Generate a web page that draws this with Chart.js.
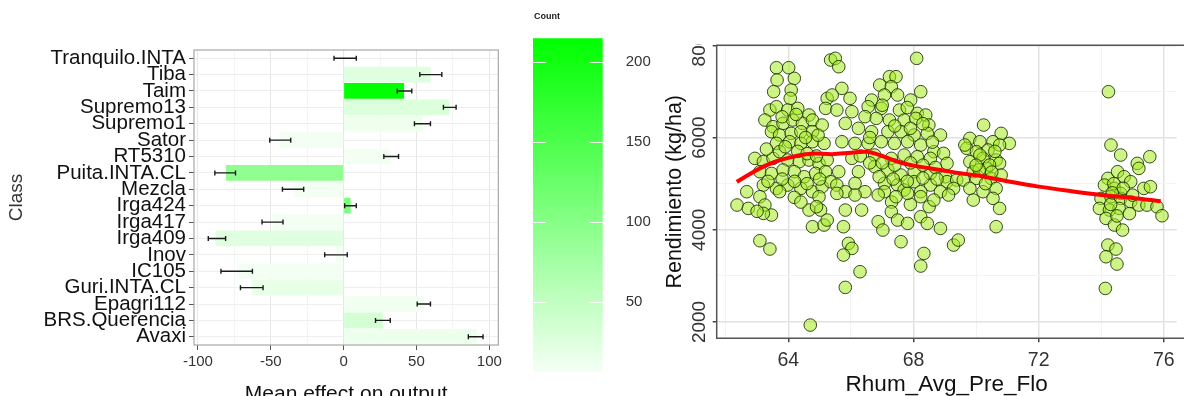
<!DOCTYPE html>
<html>
<head>
<meta charset="utf-8">
<script src="https://cdn.jsdelivr.net/npm/chart.js@4/dist/chart.umd.min.js"></script>
<style>
  html, body { margin: 0; padding: 0; background: #fff; overflow: hidden; }
  #wrap { position: relative; width: 1184px; height: 396px; }
  canvas { position: absolute; top: 0; }
</style>
</head>
<body>
<div id="wrap">
  <canvas id="bars" width="505" height="396" style="left:0"></canvas>
  <canvas id="legend" width="140" height="396" style="left:520px"></canvas>
  <canvas id="scatter" width="544" height="396" style="left:640px"></canvas>
</div>
<script>
// left panel: mean effect per class
const classes = ['Tranquilo.INTA','Tiba','Taim','Supremo13','Supremo1','Sator','RT5310','Puita.INTA.CL','Mezcla',
  'Irga424','Irga417','Irga409','Inov','IC105','Guri.INTA.CL','Epagri112','BRS.Querencia','Avaxi'];
const meanEffect = [1.0, 59.8, 41.5, 72.6, 54.2, -43.5, 32.6, -80.8, -34.7, 4.8, -48.8, -87.9, -5.3, -73.4, -63.0, 55.0, 26.9, 91.4];
const errLow  = [-6.6, 52.3, 36.8, 68.5, 48.6, -50.7, 27.6, -88.4, -42.0, 0.7, -56.0, -92.9, -13.0, -84.2, -70.8, 50.5, 21.9, 85.6];
const errHigh = [8.7, 67.4, 46.8, 77.2, 59.6, -36.3, 37.7, -74.2, -27.4, 8.7, -41.6, -81.0, 2.5, -62.6, -55.3, 59.6, 32.0, 95.7];
const classCount = [6, 24, 215, 27, 12, 8, 7, 92, 8, 110, 8, 24, 7, 8, 17, 9, 34, 13];
const effectMajorTicks = [-100, -50, 0, 50, 100];
const effectMinorTicks = [-75, -25, 25, 75];

// colour bar
const countRange = [6, 215];
const countTicks = [50, 100, 150, 200];

// right panel: yield vs humidity
const rhumMajorTicks = [64, 68, 72, 76];
const rhumMinorTicks = [62, 66, 70, 74];
const yieldMajorTicks = [2000, 4000, 6000, 8000];
const yieldMinorTicks = [3000, 5000, 7000];
const smoothX = [62.35, 62.8, 63.2, 63.6, 64.0, 64.4, 64.8, 65.4, 66.0, 66.5, 67.0, 67.5, 68.0, 68.5, 69.0, 69.5, 70.0, 71.0, 72.0, 73.0, 74.0, 75.0, 75.9];
const smoothY = [5040, 5220, 5370, 5480, 5560, 5620, 5655, 5640, 5670, 5690, 5600, 5475, 5390, 5335, 5280, 5225, 5180, 5050, 4935, 4840, 4755, 4690, 4620];
const yieldPoints = [
  [63.62,7514],[64.01,7514],[63.64,7247],[64.19,7283],[63.53,6994],[64.09,7030],[64.06,6849],[63.41,6596],[63.62,6668],[63.98,6596],
  [64.30,6632],[64.66,6488],[63.25,6379],[63.51,6235],[63.83,6307],[64.14,6379],[64.45,6307],[64.77,6379],[65.08,6271],[63.46,6126],
  [63.72,6054],[64.09,6090],[64.40,6126],[64.77,6126],[63.62,5873],[64.04,5909],[64.40,5873],[64.77,5909],[65.14,5873],[62.93,5548],
  [63.20,5476],[63.51,5548],[63.72,5693],[63.98,5512],[64.35,5476],[64.66,5512],[64.98,5439],[65.24,5512],[63.09,5259],[63.46,5222],
  [63.83,5295],[64.19,5259],[64.51,5150],[64.87,5222],[65.19,5259],[62.67,4825],[63.20,4969],[63.62,4897],[63.98,4969],[64.40,4897],
  [64.77,4825],[65.08,4933],[65.35,5042],[65.35,7681],[65.24,6849],[65.19,6632],
  [62.36,4536],[62.72,4463],[63.09,4716],[63.25,4536],[63.46,4319],[63.20,4355],[63.72,4825],[64.19,4702],[64.66,4427],[64.98,4716],
  [64.77,4066],[65.14,4102],[65.03,4427],[65.24,4210],[63.09,3762],[63.41,3582],[64.70,1933],
  [63.30,5750],[63.90,5800],[64.30,5700],[64.60,5650],[64.90,5600],[63.80,6450],[64.25,6500],[64.55,6000],[64.95,6050],[63.35,5050],
  [63.80,5100],[64.20,5050],[64.60,5000],[65.00,5100],[63.00,4400],[64.40,4600],[64.90,4500],
  [65.50,7717],[65.61,7536],[68.10,7717],[67.23,7319],[67.44,7319],[66.92,7138],[67.29,7102],[65.71,7066],[65.40,6922],[65.97,6849],
  [66.66,6813],[67.07,6922],[67.49,6922],[67.91,6813],[68.23,6994],[66.55,6668],[66.97,6632],[67.55,6596],[68.12,6524],[68.39,6488],
  [65.55,6596],[66.03,6560],[66.45,6452],[66.81,6415],[67.23,6379],[67.70,6379],[68.07,6415],[68.49,6271],[65.82,6307],[66.24,6199],
  [66.66,6126],[67.18,6126],[67.60,6126],[68.02,6054],[68.44,6090],[68.86,6054],[65.71,5909],[66.13,5873],[66.55,5873],[66.97,5909],
  [67.39,5873],[67.81,5909],[68.23,5837],[68.65,5693],[68.96,5656],[66.03,5548],[66.76,5620],[67.29,5548],[67.70,5620],[68.12,5584],
  [68.54,5548],[69.07,5439],[65.61,5259],[66.24,5259],[66.76,5367],[67.18,5295],[67.60,5186],[68.02,5259],[68.54,5222],[69.02,5150],
  [65.55,4969],[66.13,5006],[67.07,5006],[67.49,4969],[68.02,5042],[68.54,4969],[69.07,5042],[69.38,5078],[65.82,4825],[66.45,4825],
  [67.07,4825],[67.70,4861],[68.23,4825],[68.86,4825],[69.28,4897],
  [66.30,5600],[66.60,5450],[67.00,5450],[67.40,5400],[67.90,5450],[68.30,5400],[68.70,5350],[66.90,5150],[67.35,5100],[67.80,5050],
  [68.30,5120],[68.75,5100],[67.30,4600],[67.90,4550],[68.50,4500],[66.60,6000],[67.40,6250],[67.90,6200],[68.30,6300],[67.00,6700],
  [67.80,6650],[68.60,5900],
  [65.55,4789],[66.13,4753],[66.34,4427],[65.82,4427],[65.76,4066],[66.87,4753],[67.44,4716],[67.81,4789],[68.23,4716],[68.65,4644],
  [69.12,4753],[67.29,4391],[66.87,4174],[67.02,3993],[67.49,4210],[67.81,4138],[68.23,4283],[68.44,4138],[68.86,4029],[67.60,3740],
  [65.92,3704],[66.03,3596],[65.76,3451],[66.29,3090],[65.82,2750],[68.33,3487],[68.23,3213],[69.28,3668],[69.43,3776],
  [70.24,6271],[70.80,6090],[71.06,5873],[69.80,5982],[70.12,5909],[70.54,5909],[69.70,5765],[70.01,5693],[70.38,5729],[70.75,5837],
  [69.80,5476],[70.22,5548],[70.64,5512],[69.91,5259],[70.33,5331],[70.75,5439],[69.59,5078],[70.01,5114],[70.48,5114],[70.80,5186],
  [69.80,4897],[70.22,4825],[70.64,4897],[69.91,4644],[70.54,4680],[70.75,4463],[70.64,4066],[69.64,5837],[70.12,5620],[70.43,5403],
  [70.10,5300],[70.50,5250],[70.30,5000],[70.00,5400],[70.60,5700],
  [74.23,6994],[74.31,5837],[74.62,5620],[75.15,5439],[75.55,5584],[75.20,5331],[74.21,5114],[74.52,5259],[74.73,5150],[74.94,5042],
  [74.10,4969],[74.42,4897],[74.62,4789],[75.36,4897],[75.57,4933],[73.99,4680],[74.31,4716],[74.62,4680],[74.94,4608],[75.20,4535],
  [75.46,4535],[75.78,4499],[73.94,4463],[74.26,4427],[74.57,4463],[75.94,4304],[74.15,4246],[74.42,4102],[74.68,3993],[74.21,3668],
  [74.47,3581],[74.15,3415],[74.50,3256],[74.13,2728],
  [74.40,5000],[74.70,4900],[74.30,4550],[74.90,4350],[74.50,4300],[74.35,4800],[75.00,4750]
];

Chart.defaults.font.family = '"Liberation Sans", Arial, sans-serif';
Chart.defaults.animation = false;

function countColor(c) {
  const t = (c - countRange[0]) / (countRange[1] - countRange[0]);
  const v = Math.round(245 * (1 - t));
  return `rgb(${v},255,${v})`;
}
function withMinor(major, minor) {
  return major.concat(minor).sort((a, b) => a - b).map(v => ({value: v}));
}

// --- bar chart -------------------------------------------------------------
const errorBars = {
  id: 'errorBars',
  afterDatasetsDraw(chart) {
    const {ctx, scales: {x, y}} = chart;
    ctx.save();
    ctx.strokeStyle = '#1a1a1a';
    ctx.lineWidth = 1.4;
    classes.forEach((c, i) => {
      const py = y.getPixelForValue(i);
      const x1 = x.getPixelForValue(errLow[i]);
      const x2 = x.getPixelForValue(errHigh[i]);
      ctx.beginPath();
      ctx.moveTo(x1, py); ctx.lineTo(x2, py);
      ctx.moveTo(x1, py - 2.5); ctx.lineTo(x1, py + 2.5);
      ctx.moveTo(x2, py - 2.5); ctx.lineTo(x2, py + 2.5);
      ctx.stroke();
    });
    const a = chart.chartArea;
    ctx.strokeStyle = '#a8a8a8';
    ctx.lineWidth = 1.2;
    ctx.strokeRect(a.left, a.top, a.right - a.left, a.bottom - a.top);
    ctx.restore();
  }
};

new Chart(document.getElementById('bars'), {
  type: 'bar',
  data: {
    labels: classes,
    datasets: [{
      data: meanEffect,
      backgroundColor: classCount.map(countColor),
      borderWidth: 0,
      barPercentage: 1,
      categoryPercentage: 0.96
    }]
  },
  options: {
    indexAxis: 'y',
    responsive: false,
    layout: { padding: { top: 50, right: 6, bottom: 0, left: 0 } },
    plugins: { legend: { display: false }, tooltip: { enabled: false } },
    scales: {
      x: {
        min: -102.7, max: 106.2,
        afterBuildTicks: s => { s.ticks = withMinor(effectMajorTicks, effectMinorTicks); },
        afterFit: s => { s.height = 51; },
        ticks: {
          autoSkip: false, maxRotation: 0, padding: 3, color: '#333', font: { size: 15 },
          callback: v => effectMajorTicks.includes(v) ? v : ''
        },
        grid: {
          color: c => effectMajorTicks.includes(c.tick && c.tick.value) ? '#e6e6e6' : '#f4f4f4',
          tickColor: c => effectMajorTicks.includes(c.tick && c.tick.value) ? '#555' : 'rgba(0,0,0,0)',
          tickLength: 5
        },
        border: { display: false },
        title: { display: true, text: 'Mean effect on output', color: '#111', font: { size: 21, lineHeight: 1 }, padding: { top: 0, bottom: -9 } }
      },
      y: {
        afterFit: s => { s.width = 194; },
        ticks: { autoSkip: false, padding: 3, color: '#111', font: { size: 20.5 } },
        grid: { offset: false, color: '#eeeeee', tickColor: '#555', tickLength: 5 },
        border: { display: false },
        title: { display: true, text: 'Class', color: '#333', font: { size: 19, lineHeight: 1 }, padding: { top: 7 } }
      }
    }
  },
  plugins: [errorBars]
});

// --- colour bar ------------------------------------------------------------
const legendDecor = {
  id: 'legendDecor',
  afterDraw(chart) {
    const {ctx, chartArea: a, scales: {y}} = chart;
    ctx.save();
    ctx.strokeStyle = 'rgba(255,255,255,0.9)';
    ctx.lineWidth = 1;
    countTicks.forEach(v => {
      const py = Math.round(y.getPixelForValue(v)) + 0.5;
      ctx.beginPath();
      ctx.moveTo(a.left, py); ctx.lineTo(a.left + 13, py);
      ctx.moveTo(a.right - 13, py); ctx.lineTo(a.right, py);
      ctx.stroke();
    });
    ctx.fillStyle = '#222';
    ctx.font = 'bold 9px "Liberation Sans", Arial, sans-serif';
    ctx.textBaseline = 'middle';
    ctx.fillText('Count', a.left + 1, 17);
    ctx.restore();
  }
};

new Chart(document.getElementById('legend'), {
  type: 'bar',
  data: {
    labels: ['Count'],
    datasets: [{
      data: [countRange],
      borderWidth: 0,
      barPercentage: 1,
      categoryPercentage: 1,
      backgroundColor: c => {
        const a = c.chart.chartArea;
        if (!a) return countColor(countRange[1]);
        const g = c.chart.ctx.createLinearGradient(0, a.bottom, 0, a.top);
        g.addColorStop(0, countColor(countRange[0]));
        g.addColorStop(1, countColor(countRange[1]));
        return g;
      }
    }]
  },
  options: {
    responsive: false,
    layout: { padding: { top: 38.3, right: 0, bottom: 14.3, left: 13 } },
    plugins: { legend: { display: false }, tooltip: { enabled: false } },
    scales: {
      x: { display: false, offset: true },
      y: {
        position: 'right',
        min: countRange[0], max: countRange[1],
        afterBuildTicks: s => { s.ticks = countTicks.map(v => ({value: v})); },
        afterFit: s => { s.width = 57.3; },
        ticks: { padding: 15, color: '#333', font: { size: 15 } },
        grid: { display: false },
        border: { display: false }
      }
    }
  },
  plugins: [legendDecor]
});

// --- scatter ---------------------------------------------------------------
const yieldLabels = {
  id: 'yieldLabels',
  afterDraw(chart) {
    const {ctx, chartArea: a, scales: {y}} = chart;
    ctx.save();
    ctx.strokeStyle = '#555';
    ctx.lineWidth = 1.5;
    ctx.beginPath();
    ctx.moveTo(chart.width, a.top); ctx.lineTo(a.left, a.top);
    ctx.lineTo(a.left, a.bottom); ctx.lineTo(chart.width, a.bottom);
    ctx.stroke();
    ctx.beginPath();
    ctx.rect(0, a.top - 1, a.left, chart.height);
    ctx.clip();
    ctx.fillStyle = '#333';
    ctx.font = '19px "Liberation Sans", Arial, sans-serif';
    ctx.textAlign = 'center';
    ctx.textBaseline = 'middle';
    yieldMajorTicks.forEach(v => {
      ctx.save();
      ctx.translate(60, y.getPixelForValue(v));
      ctx.rotate(-Math.PI / 2);
      ctx.fillText(String(v), 0, 0);
      ctx.restore();
    });
    ctx.restore();
  }
};

new Chart(document.getElementById('scatter'), {
  data: {
    datasets: [{
      type: 'line',
      data: smoothX.map((x, i) => ({x: x, y: smoothY[i]})),
      borderColor: '#ff0000',
      borderWidth: 4,
      pointRadius: 0,
      tension: 0.35,
      order: 0
    }, {
      type: 'scatter',
      data: yieldPoints.map(p => ({x: p[0], y: p[1]})),
      backgroundColor: 'rgba(165,235,35,0.55)',
      borderColor: 'rgba(25,45,0,0.85)',
      borderWidth: 1,
      pointRadius: 6.3,
      order: 1
    }]
  },
  options: {
    responsive: false,
    layout: { padding: { top: 45.3, right: 0, bottom: 0, left: 0 } },
    plugins: { legend: { display: false }, tooltip: { enabled: false } },
    scales: {
      x: {
        type: 'linear',
        min: 61.71, max: 76.41,
        afterBuildTicks: s => { s.ticks = withMinor(rhumMajorTicks, rhumMinorTicks); },
        afterFit: s => { s.height = 57.7; },
        ticks: {
          autoSkip: false, maxRotation: 0, padding: 7, color: '#333', font: { size: 19.5 },
          callback: v => rhumMajorTicks.includes(v) ? v : ''
        },
        grid: {
          color: c => rhumMajorTicks.includes(c.tick && c.tick.value) ? '#e2e2e2' : '#f3f3f3',
          lineWidth: c => rhumMajorTicks.includes(c.tick && c.tick.value) ? 1.5 : 1,
          tickColor: c => rhumMajorTicks.includes(c.tick && c.tick.value) ? '#444' : 'rgba(0,0,0,0)',
          tickLength: 4
        },
        border: { display: false },
        title: { display: true, text: 'Rhum_Avg_Pre_Flo', color: '#111', font: { size: 22.5, lineHeight: 1 }, padding: { top: 0, bottom: 0 } }
      },
      y: {
        min: 1646, max: 8000,
        afterBuildTicks: s => { s.ticks = withMinor(yieldMajorTicks, yieldMinorTicks); },
        afterFit: s => { s.width = 76.7; },
        ticks: { display: false },
        grid: {
          color: c => yieldMajorTicks.includes(c.tick && c.tick.value) ? '#e2e2e2' : '#f3f3f3',
          lineWidth: c => yieldMajorTicks.includes(c.tick && c.tick.value) ? 1.5 : 1,
          tickColor: c => yieldMajorTicks.includes(c.tick && c.tick.value) ? '#444' : 'rgba(0,0,0,0)',
          tickLength: 4
        },
        border: { display: false },
        title: { display: true, text: 'Rendimiento (kg/ha)', color: '#111', font: { size: 21.5, lineHeight: 1 }, padding: { top: 24 } }
      }
    }
  },
  plugins: [yieldLabels]
});
</script>
</body>
</html>
